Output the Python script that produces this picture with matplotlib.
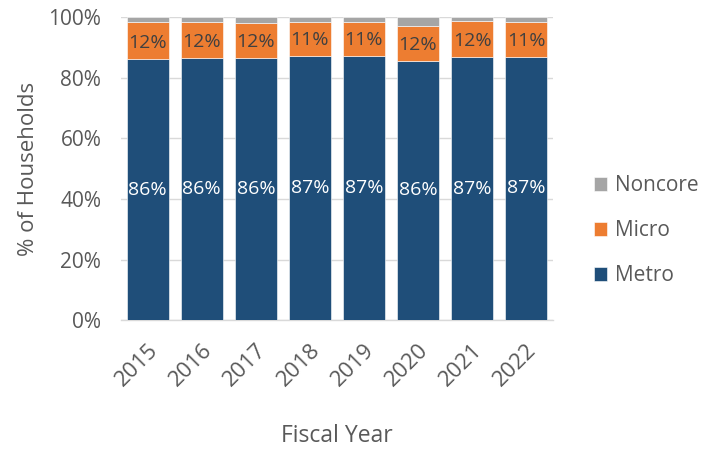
import matplotlib
matplotlib.use("Agg")
import matplotlib.pyplot as plt
import numpy as np

years = ["2015", "2016", "2017", "2018", "2019", "2020", "2021", "2022"]
metro = [86.1, 86.4, 86.4, 87.3, 87.3, 85.6, 86.8, 86.9]
micro = [12.2, 11.9, 11.7, 11.2, 11.2, 11.6, 11.8, 11.4]
noncore = [1.7, 1.7, 1.9, 1.5, 1.5, 2.8, 1.4, 1.7]
yticks = [0, 20, 40, 60, 80, 100]

c_metro = "#1F4E79"
c_micro = "#ED7D31"
c_noncore = "#A5A5A5"
txt = "#595959"

plt.rcParams["font.family"] = ["Open Sans", "DejaVu Sans"]

fig = plt.figure(figsize=(7.10, 4.49), dpi=100)
ax = fig.add_axes([0.170, 0.287, 0.609, 0.675])

x = np.arange(len(years))
w = 0.78
metro_a = np.array(metro)
micro_a = np.array(micro)
noncore_a = np.array(noncore)

b1 = ax.bar(x, metro_a, w, color=c_metro, label="Metro", zorder=3,
            edgecolor="#FFFFFF", linewidth=0.4)
b2 = ax.bar(x, micro_a, w, bottom=metro_a, color=c_micro, label="Micro", zorder=3,
            edgecolor="#FFFFFF", linewidth=0.4)
b3 = ax.bar(x, noncore_a, w, bottom=metro_a + micro_a, color=c_noncore,
            label="Noncore", zorder=3, edgecolor="#FFFFFF", linewidth=0.4)

for xi, m, mi in zip(x, metro_a, micro_a):
    ax.text(xi, m / 2, f"{m:.0f}%", ha="center", va="center",
            color="white", fontsize=14, zorder=4)
    ax.text(xi, m + mi / 2 - 0.6, f"{mi:.0f}%", ha="center", va="center",
            color="#404040", fontsize=14, zorder=4)

ax.set_xlim(-0.5, len(years) - 0.5)
ax.set_ylim(0, 100)
ax.set_yticks(yticks)
ax.set_yticklabels([f"{t}%" for t in yticks], fontsize=15, color=txt)
ax.set_xticks(x)
ax.set_xticklabels(years, rotation=45, ha="right", rotation_mode="anchor",
                   fontsize=16, color=txt)
ax.tick_params(axis="y", length=0, pad=14)
ax.tick_params(axis="x", length=0, pad=14)

ax.grid(axis="y", color="#D9D9D9", linewidth=1, zorder=0)
for s in ["top", "right", "left"]:
    ax.spines[s].set_visible(False)
ax.spines["bottom"].set_color("#D9D9D9")
ax.spines["bottom"].set_linewidth(1)

ax.set_ylabel("% of Households", fontsize=16, color=txt, labelpad=7)
ax.set_xlabel("Fiscal Year", fontsize=16.5, color=txt, labelpad=24)

handles = [b3, b2, b1]
leg = fig.legend(handles, ["Noncore", "Micro", "Metro"], loc="center left",
                 bbox_to_anchor=(0.81, 0.486), frameon=False, fontsize=15,
                 handlelength=0.65, handleheight=0.65, handletextpad=0.35,
                 labelspacing=1.15, labelcolor=txt)

fig.savefig("out.png", dpi=100)
